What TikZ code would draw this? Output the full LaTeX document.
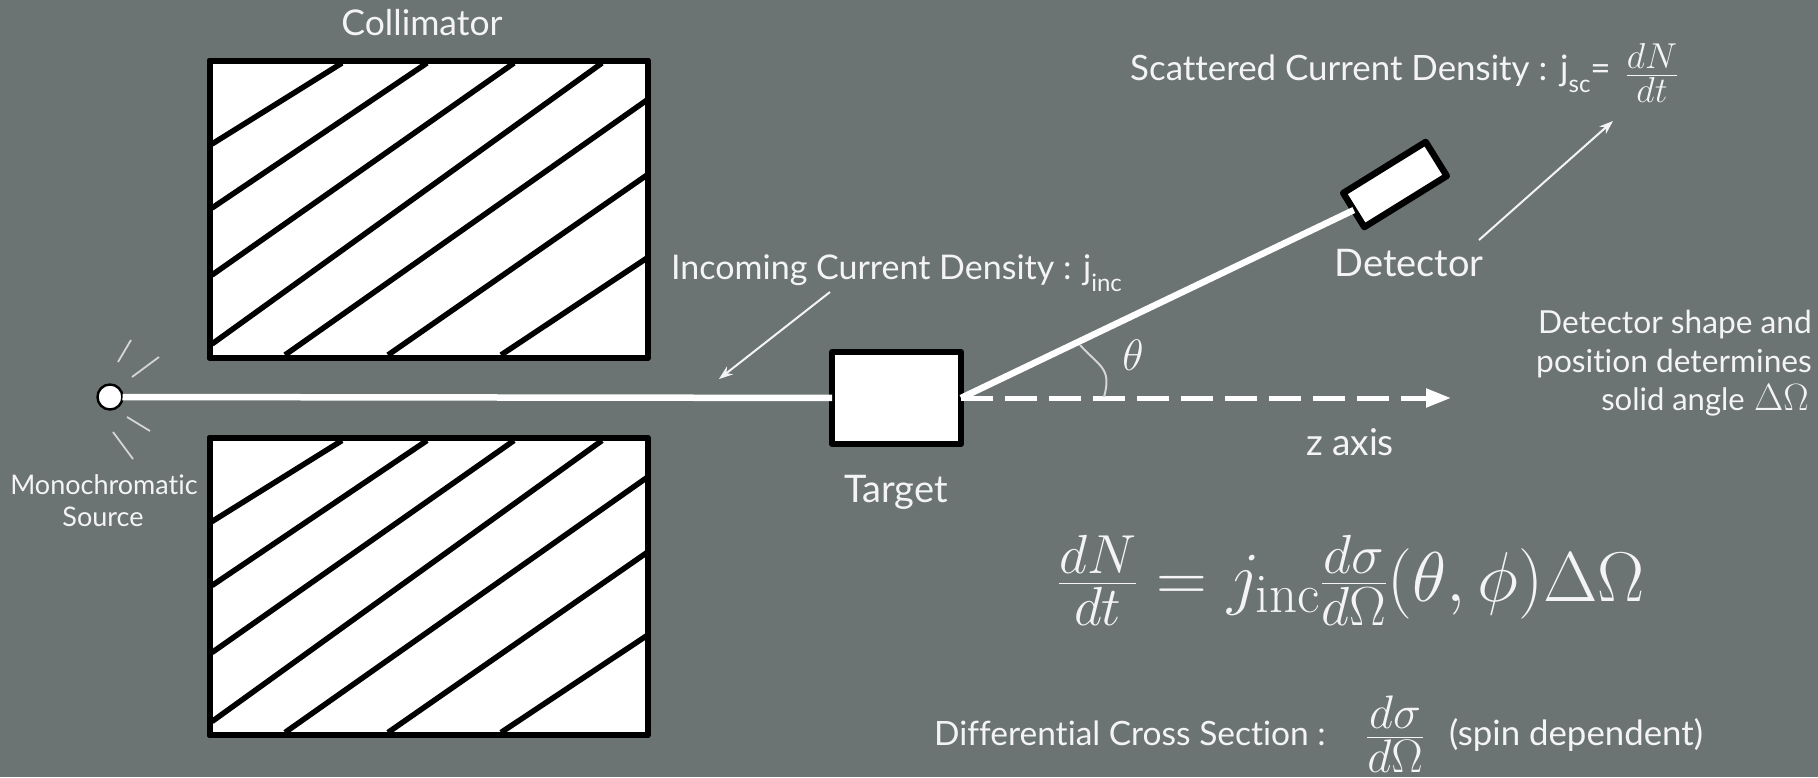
\documentclass[tikz,border=0pt]{standalone}
\usepackage{fix-cm}
\usepackage[no-math]{fontspec}
\setmainfont[Ligatures=NoCommon]{Lato}
\usetikzlibrary{arrows.meta}
\DeclareMathSizes{70.5}{70.5}{55}{40}
\DeclareMathSizes{46}{46}{36}{30}
\DeclareMathSizes{60}{60}{47}{40}
\definecolor{bgc}{HTML}{6B7373}
\definecolor{txt}{HTML}{F4F4F4}
\definecolor{ray}{HTML}{D5D5D5}
\newcommand{\fsz}[1]{\fontsize{#1}{#1}\selectfont}
\newcommand{\lowsub}[1]{\raisebox{-0.36em}{\fontsize{24}{24}\selectfont #1}}
\tikzset{
  lab/.style={text=txt,inner sep=0pt,font=\fsz{#1}},
  blockbox/.style={draw=black,fill=white,line width=6pt,line join=round,inner sep=0pt,outer sep=0pt},
  hatch/.style={draw=black,line width=5.5pt},
  beam/.style={draw=white,line width=6.5pt},
  thin arrow/.style={draw=txt,line width=2pt,-{Stealth[length=14pt,width=10pt]}},
  rayline/.style={draw=ray,line width=1.8pt},
}
\newcommand{\hatchset}{%
  \draw[hatch] (212,144) -- (342,63);
  \draw[hatch] (212,208) -- (427,63);
  \draw[hatch] (212,275) -- (514,63);
  \draw[hatch] (212,344) -- (602,63);
  \draw[hatch] (285,355) -- (647,100);
  \draw[hatch] (388,355) -- (647,175);
  \draw[hatch] (501,355) -- (647,258);
}
\begin{document}
\begin{tikzpicture}[x=1pt,y=-1pt]
\useasboundingbox (0,0) rectangle (1818,777);
\fill[bgc] (0,0) rectangle (1818,777);
% collimator
\node[blockbox,minimum width=438pt,minimum height=297pt] (coltop) at (428.5,209) {};
\hatchset
\draw[black,line width=6pt,line join=round] (coltop.north west) rectangle (coltop.south east);
\node[blockbox,minimum width=438pt,minimum height=297pt] (colbot) at (428.5,586.5) {};
\begin{scope}[yshift=-377.5pt]\hatchset\end{scope}
\draw[black,line width=6pt,line join=round] (colbot.north west) rectangle (colbot.south east);
% source
\node[circle,draw=black,fill=white,line width=2.4pt,minimum size=25pt,inner sep=0pt,outer sep=0pt] (source) at (110,397) {};
\node[blockbox,minimum width=129pt,minimum height=92pt] (target) at (896.5,398) {};
\node[blockbox,line width=6.5pt,rotate=31.8,minimum width=97pt,minimum height=40pt] (det) at (1395,184.5) {};
\draw[beam] (source) -- (target);
\draw[beam] (target.east) -- (det.west);
\coordinate (zend) at (1451,398);
\draw[draw=white,line width=5pt,dash pattern=on 32pt off 12pt,-{Triangle[length=25pt,width=18pt]}] (target.east) -- (zend);
% rays
\coordinate (r1a) at (118,362); \coordinate (r1b) at (131,340);
\coordinate (r2a) at (132,377); \coordinate (r2b) at (159,357);
\coordinate (r3a) at (127,417); \coordinate (r3b) at (150,431);
\coordinate (r4a) at (113,432); \coordinate (r4b) at (133,459);
\draw[rayline] (r1a) -- (r1b);
\draw[rayline] (r2a) -- (r2b);
\draw[rayline] (r3a) -- (r3b);
\draw[rayline] (r4a) -- (r4b);
% angle
\coordinate (ang1) at (1080,345); \coordinate (ang2) at (1104,397);
\draw[ray,line width=2pt] (ang1) .. controls (1100,367) and (1112,368) .. (ang2);
\node[lab=44] (theta) at (1133,355) {$\theta$};
% labels
\node[lab=35.5,anchor=base] (lcol) at (422,35) {Collimator};
\node[lab=27,anchor=base] (lmono) at (104,494) {Monochromatic};
\node[lab=27,anchor=base] (lsrc) at (103,526) {Source};
\node[lab=38,anchor=base] (ltgt) at (896,502) {Target};
\node[lab=38,anchor=base] (ldet) at (1409,276) {Detector};
\node[lab=34,anchor=base west] (linc) at (671,279) {Incoming Current Density : j\lowsub{inc}};
\node[lab=34.9,anchor=base west] (lsc) at (1130,80) {Scattered Current Density :};
\node[lab=35,anchor=base west] (ljsc) at (1560,80) {j\lowsub{sc}=};
\node[lab=46,anchor=base] (fsc) at (1652,87) {$\frac{dN}{dt}$};
\node[lab=37,anchor=base] (lz) at (1350,455) {z axis};
\node[lab=31.7,anchor=base east] (ld1) at (1812,333) {Detector shape and};
\node[lab=31.7,anchor=base east] (ld2) at (1812,372) {position determines};
\node[lab=31,anchor=base east] (ld3) at (1745,410) {solid angle};
\node[lab=38,anchor=base east] (ld4) at (1809,410) {$\Delta\Omega$};
\node[lab=70.5,anchor=base] (eq) at (1351.5,601) {$\frac{dN}{dt}=j_{\mathrm{inc}}\frac{d\sigma}{d\Omega}(\theta,\phi)\Delta\Omega$};
\node[lab=33.5,anchor=base west] (ldiff) at (934,745) {Differential Cross Section :};
\node[lab=60,anchor=base] (fdiff) at (1395,752) {$\frac{d\sigma}{d\Omega}$};
\node[lab=34.8,anchor=base west] (lspin) at (1449,745) {(spin dependent)};
% arrows
\coordinate (a1) at (830,292); \coordinate (a2) at (719,379);
\draw[thin arrow] (a1) -- (a2);
\coordinate (b1) at (1479,240); \coordinate (b2) at (1613,121);
\draw[thin arrow] (b1) -- (b2);
\end{tikzpicture}
\end{document}
